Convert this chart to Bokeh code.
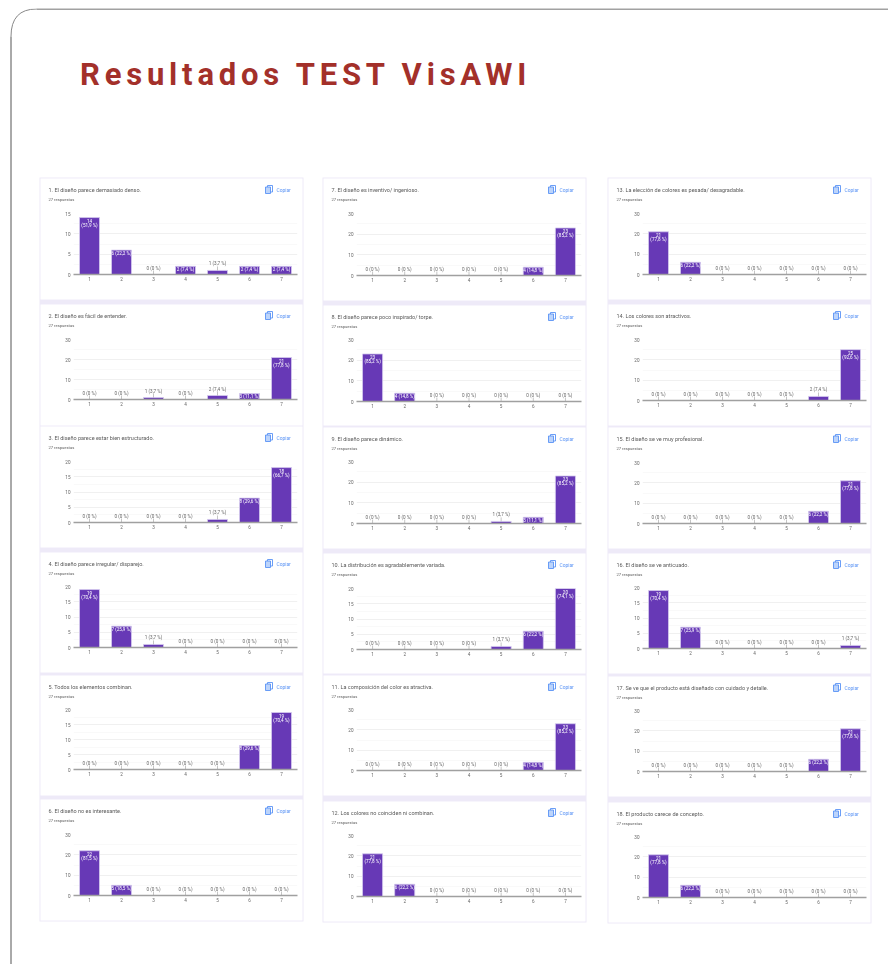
from bokeh.embed import file_html
from bokeh.resources import INLINE
from bokeh.plotting import figure
from bokeh.layouts import column
from bokeh.models import (Div, SingleIntervalTicker, FixedTicker)
from bokeh.core.properties import value

RESPONSES = 27
categories = [1, 2, 3, 4, 5, 6, 7]
titles = [
    "1. El diseño parece demasiado denso.",
    "2. El diseño es fácil de entender.",
    "3. El diseño parece estar bien estructurado.",
    "4. El diseño parece irregular/ disparejo.",
    "5. Todos los elementos combinan.",
    "6. El diseño no es interesante.",
    "7. El diseño es inventivo/ ingenioso.",
    "8. El diseño parece poco inspirado/ torpe.",
    "9. El diseño parece dinámico.",
    "10. La distribución es agradablemente variada.",
    "11. La composición del color es atractiva.",
    "12.  Los colores no coinciden ni combinan.",
    "13. La elección de colores es pesada/ desagradable.",
    "14. Los colores son atractivos.",
    "15. El diseño se ve muy profesional.",
    "16. El diseño se ve anticuado.",
    "17. Se ve que el producto está diseñado con cuidado y detalle.",
    "18. El producto carece de  concepto.",
]
q1 = [14, 6, 0, 2, 1, 2, 2]
q2 = [0, 0, 1, 0, 2, 3, 21]
q3 = [0, 0, 0, 0, 1, 8, 18]
q4 = [19, 7, 1, 0, 0, 0, 0]
q5 = [0, 0, 0, 0, 0, 8, 19]
q6 = [22, 5, 0, 0, 0, 0, 0]
q7 = [0, 0, 0, 0, 0, 4, 23]
q8 = [23, 4, 0, 0, 0, 0, 0]
q9 = [0, 0, 0, 0, 1, 3, 23]
q10 = [0, 0, 0, 0, 1, 6, 20]
q11 = [0, 0, 0, 0, 0, 4, 23]
q12 = [21, 6, 0, 0, 0, 0, 0]
q13 = [21, 6, 0, 0, 0, 0, 0]
q14 = [0, 0, 0, 0, 0, 2, 25]
q15 = [0, 0, 0, 0, 0, 6, 21]
q16 = [19, 7, 0, 0, 0, 0, 1]
q17 = [0, 0, 0, 0, 0, 6, 21]
q18 = [21, 6, 0, 0, 0, 0, 0]
series = [q1, q2, q3, q4, q5, q6, q7, q8, q9, q10, q11, q12, q13, q14, q15, q16, q17, q18]
y_max = [15, 30, 20, 20, 20, 30, 30, 30, 30, 20, 30, 30, 30, 30, 30, 20, 30, 30]
y_step = [5, 10, 5, 5, 5, 10, 10, 10, 10, 5, 10, 10, 10, 10, 10, 5, 10, 10]

# layout (page pixels): card top, card bottom, plot top, plot baseline
col_x = [(40, 302, 73, 297), (323, 585, 356, 581), (608, 870, 642, 866)]
card_y = [
    (178, 299, 213, 274), (304, 425, 339, 399), (426, 547, 461, 522),
    (552, 672, 586, 647), (675, 795, 709, 769), (799, 920, 834, 895),
    (178, 300, 213, 275), (305, 425, 339, 401), (427, 548, 461, 523),
    (553, 673, 588, 649), (675, 795, 709, 770), (801, 921, 835, 896),
    (178, 299, 213, 274), (304, 425, 339, 400), (427, 548, 462, 523),
    (553, 673, 587, 648), (676, 796, 710, 771), (802, 922, 836, 897),
]

PURPLE = "#6739b6"
LAV = "#eeeaf8"
FONT = "Roboto"
SOFT = "blur(0.45px)"  # the reference is a downscaled screenshot


def pct(v):
    s = f"{v / RESPONSES * 100:.1f}".rstrip("0").rstrip(".")
    return s.replace(".", ",") + " %"


def card(i):
    cx0, cx1, fx0, fx1 = col_x[i // 6]
    T, B, ft, base = card_y[i]
    vals = series[i]
    ym = y_max[i]
    W, H = cx1 - cx0, B - T
    fh = base - ft
    p = figure(width=W, height=H, x_range=(0.5, 7.5), y_range=(0, ym),
               output_backend="svg", toolbar_location=None, frame_align=False,
               min_border_left=fx0 - cx0, min_border_right=cx1 - fx1,
               min_border_top=ft - T, min_border_bottom=B - base,
               border_fill_color=None, background_fill_color=None,
               outline_line_color=None,
               styles={"position": "absolute", "left": f"{cx0}px", "top": f"{T}px",
                       "filter": SOFT})
    p.xgrid.visible = False
    p.ygrid.ticker = SingleIntervalTicker(interval=y_step[i], num_minor_ticks=2)
    p.ygrid.grid_line_color = "#efefef"
    p.ygrid.grid_line_width = 0.8
    p.ygrid.minor_grid_line_color = "#f7f7f7"
    p.ygrid.minor_grid_line_width = 0.8
    p.yaxis.ticker = SingleIntervalTicker(interval=y_step[i], num_minor_ticks=0)
    p.yaxis.axis_line_color = None
    p.yaxis.major_tick_in = 0
    p.yaxis.major_tick_out = 0
    p.yaxis.minor_tick_in = 0
    p.yaxis.minor_tick_out = 0
    p.yaxis.major_tick_line_color = None
    p.yaxis.minor_tick_line_color = None
    p.yaxis.major_label_text_font = FONT
    p.yaxis.major_label_text_font_size = "4.6px"
    p.yaxis.major_label_text_color = "#666666"
    p.yaxis.major_label_standoff = 3
    p.xaxis.ticker = FixedTicker(ticks=categories)
    p.xaxis.axis_line_color = "#a0a0a0"
    p.xaxis.axis_line_width = 1.3
    p.xaxis.major_tick_in = 0
    p.xaxis.major_tick_out = 0
    p.xaxis.minor_tick_in = 0
    p.xaxis.minor_tick_out = 0
    p.xaxis.major_tick_line_color = None
    p.xaxis.minor_tick_line_color = None
    p.xaxis.major_label_text_font = FONT
    p.xaxis.major_label_text_font_size = "4.6px"
    p.xaxis.major_label_text_color = "#666666"
    p.xaxis.major_label_standoff = 2

    px = ym / fh  # data units per pixel
    bars = [(c, v) for c, v in zip(categories, vals) if v > 0]
    p.vbar(x=[b[0] for b in bars], top=[b[1] for b in bars], bottom=0, width=0.625,
           fill_color=PURPLE, line_color="#d6ccef", line_width=0.8)

    out_x, out_y, out_t = [], [], []
    in_x, in_y, in_t = [], [], []
    two_x, two_y, two_a, two_b = [], [], [], []
    for c, v in zip(categories, vals):
        if v / px < 5.5:
            out_x.append(c); out_y.append(v); out_t.append(f"{v} ({pct(v)})")
        elif v < 10:
            in_x.append(c); in_y.append(v); in_t.append(f"{v} ({pct(v)})")
        else:
            two_x.append(c); two_y.append(v); two_a.append(str(v)); two_b.append(f"({pct(v)})")
    size = "4.6px"
    if out_x:
        p.segment(x0=out_x, x1=out_x, y0=out_y, y1=[y + 4 * px for y in out_y],
                  line_color="#9e9e9e", line_width=0.6)
        p.text(x=out_x, y=out_y, text=out_t, y_offset=-6.5, text_align="center",
               text_baseline="middle", text_font=value(FONT), text_font_size=size,
               text_color="#666666")
    if in_x:
        p.text(x=in_x, y=in_y, text=in_t, y_offset=3, text_align="center",
               text_baseline="middle", text_font=value(FONT), text_font_size=size,
               text_color="white")
    if two_x:
        p.text(x=two_x, y=two_y, text=two_a, y_offset=3, text_align="center",
               text_baseline="middle", text_font=value(FONT), text_font_size=size,
               text_color="white")
        p.text(x=two_x, y=two_y, text=two_b, y_offset=7.7, text_align="center",
               text_baseline="middle", text_font=value(FONT), text_font_size=size,
               text_color="white")
    return p


def page_layer(blur):
    styles = {"position": "absolute", "left": "8px", "top": "8px"}
    if blur:
        styles["filter"] = SOFT
    f = figure(width=880, height=956, x_range=(8, 888), y_range=(964, 8),
               x_axis_type=None, y_axis_type=None, frame_align=False,
               output_backend="svg", toolbar_location=None,
               min_border_left=0, min_border_right=0, min_border_top=0, min_border_bottom=0,
               outline_line_color=None, border_fill_color=None, background_fill_color=None,
               styles=styles)
    f.grid.visible = False
    return f


frame = page_layer(False)
# rounded page frame
frame.line(x=[10.5, 10.5], y=[36, 964], line_color="#555555", line_width=1)
frame.line(x=[36, 888], y=[8.5, 8.5], line_color="#444444", line_width=1)
frame.quadratic(x0=[10.5], y0=[36], x1=[36], y1=[8.5], cx=[10.5], cy=[8.5],
                line_color="#888888", line_width=1)

bg = page_layer(True)
# lavender backing of the three pasted screenshots
for c in range(3):
    x0, x1, _, _ = col_x[c]
    ys = card_y[c * 6:c * 6 + 6]
    bg.quad(left=x0 - 1, right=x1 + 1, top=ys[0][0] - 1, bottom=ys[-1][1] + 1,
            fill_color=LAV, line_color=None)
# white cards with their headers
bg.quad(left=[col_x[i // 6][0] for i in range(18)], right=[col_x[i // 6][1] for i in range(18)],
        top=[c[0] for c in card_y], bottom=[c[1] for c in card_y],
        fill_color="white", line_color=None)
hx = [col_x[i // 6][0] + 8 for i in range(18)]
bg.text(x=hx, y=[c[0] + 11 for c in card_y], text=titles, text_baseline="middle",
        text_font=value(FONT), text_font_size="5.5px", text_color="#5a5a5a")
bg.text(x=hx, y=[c[0] + 21 for c in card_y], text=[f"{RESPONSES} respuestas"] * 18,
        text_baseline="middle", text_font=value(FONT), text_font_size="4.1px", text_color="#5f5f5f")
bg.text(x=[h + 228 for h in hx], y=[c[0] + 11 for c in card_y], text=["Copiar"] * 18,
        text_baseline="middle", text_font=value(FONT), text_font_size="4.9px",
        text_color="#5a93f5")
bg.quad(left=[h + 219 for h in hx], right=[h + 224 for h in hx],
        top=[c[0] + 7 for c in card_y], bottom=[c[0] + 13.5 for c in card_y],
        fill_color="white", line_color="#5a93f5", line_width=0.9)
bg.quad(left=[h + 217 for h in hx], right=[h + 222 for h in hx],
        top=[c[0] + 8.5 for c in card_y], bottom=[c[0] + 15 for c in card_y],
        fill_color="#bcd4fb", line_color="#5a93f5", line_width=0.9)

heading = Div(text="Resultados TEST VisAWI",
              styles={"position": "absolute", "left": "75px", "top": "48px",
                      "font-family": "Roboto", "font-size": "31px", "font-weight": "700",
                      "letter-spacing": "4.8px", "color": "#a3302a", "white-space": "nowrap"})

root = column(frame, bg, *[card(i) for i in range(18)], heading, width=880, height=956)
open("out.html", "w").write(file_html(root, INLINE))
